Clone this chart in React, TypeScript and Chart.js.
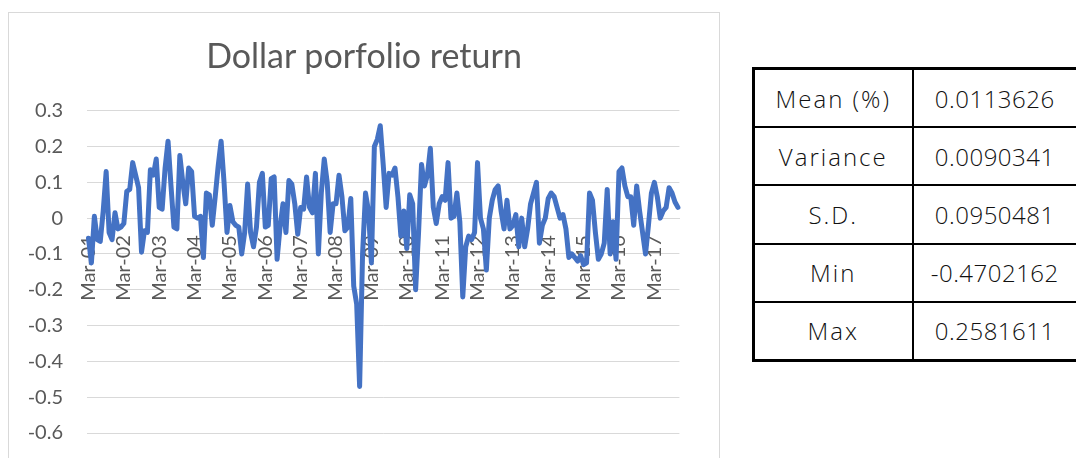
import React, { useEffect, useRef } from "react";
import { Chart, registerables } from "chart.js";

Chart.register(...registerables);

const TITLE = "Dollar porfolio return";
const MONTHS = ["Jan", "Feb", "Mar", "Apr", "May", "Jun", "Jul", "Aug", "Sep", "Oct", "Nov", "Dec"];
const FIRST_MONTH_INDEX = 2; // Mar-01

const RET_2001 = [-0.056, -0.125, 0.005, -0.06, -0.065, 0.02, 0.13, -0.04, -0.06, 0.015];
const RET_2002 = [-0.03, -0.025, -0.015, 0.075, 0.08, 0.155, 0.12, 0.085, -0.095, -0.035, -0.04, 0.135];
const RET_2003 = [0.12, 0.165, 0.03, 0.025, 0.14, 0.215, 0.09, -0.025, -0.03, 0.175, 0.1, 0.04];
const RET_2004 = [0.14, 0.13, 0.005, 0.0, 0.005, -0.11, 0.07, 0.065, -0.02, 0.06, 0.145, 0.215];
const RET_2005 = [0.1, -0.04, 0.035, -0.01, -0.02, -0.025, -0.1, -0.04, 0.095, -0.04, -0.08, -0.025];
const RET_2006 = [0.1, 0.125, -0.025, -0.02, 0.11, 0.115, -0.115, -0.025, 0.04, -0.04, 0.105, 0.095];
const RET_2007 = [0.04, -0.045, 0.03, 0.025, 0.115, 0.03, 0.015, 0.125, -0.1, 0.07, 0.165, 0.1];
const RET_2008 = [-0.04, 0.04, 0.04, 0.12, 0.06, -0.035, -0.025, 0.055, -0.19, -0.24, -0.4702162, -0.1];
const RET_2009 = [0.07, 0.02, -0.125, 0.2, 0.22, 0.2581611, 0.15, 0.03, 0.125, 0.12, 0.14, 0.06];
const RET_2010 = [-0.05, 0.02, -0.085, 0.065, 0.04, -0.2, -0.04, 0.15, 0.09, 0.12, 0.195, 0.03];
const RET_2011 = [-0.015, 0.04, 0.06, 0.05, 0.155, 0.0, 0.005, 0.07, -0.01, -0.22, -0.08, -0.05];
const RET_2012 = [-0.06, -0.04, 0.155, 0.0, -0.03, -0.145, 0.0, 0.05, 0.08, 0.09, 0.02, -0.03];
const RET_2013 = [0.05, -0.03, -0.02, 0.01, -0.08, 0.0, -0.08, -0.03, 0.04, 0.07, 0.1, -0.07];
const RET_2014 = [-0.02, 0.0, 0.055, 0.07, 0.06, 0.03, 0.0, 0.01, -0.03, -0.11, -0.1, -0.11];
const RET_2015 = [-0.12, -0.105, -0.13, -0.125, 0.07, 0.05, -0.04, -0.115, -0.1, -0.07, 0.08, -0.1];
const RET_2016 = [-0.01, -0.115, 0.13, 0.14, 0.09, 0.06, 0.06, -0.02, 0.09, 0.02, -0.04, -0.1];
const RET_2017 = [-0.02, 0.07, 0.1, 0.06, 0.0, 0.02, 0.03, 0.085, 0.07, 0.045, 0.03];

const RETURNS = [
  ...RET_2001, ...RET_2002, ...RET_2003, ...RET_2004, ...RET_2005, ...RET_2006,
  ...RET_2007, ...RET_2008, ...RET_2009, ...RET_2010, ...RET_2011, ...RET_2012,
  ...RET_2013, ...RET_2014, ...RET_2015, ...RET_2016, ...RET_2017,
];

const CATEGORIES = RETURNS.map((_, i) => {
  const k = FIRST_MONTH_INDEX + i;
  const yy = 1 + Math.floor(k / 12);
  return `${MONTHS[k % 12]}-${String(yy).padStart(2, "0")}`;
});

const LABEL_EVERY = 12;
const Y_MIN = -0.6;
const Y_MAX = 0.3;
const Y_STEP = 0.1;

const STAT_LABELS = ["Mean (%)", "Variance", "S.D.", "Min", "Max"];
const STAT_VALUES = ["0.0113626", "0.0090341", "0.0950481", "-0.4702162", "0.2581611"];

function ReturnChart() {
  const ref = useRef<HTMLCanvasElement | null>(null);
  useEffect(() => {
    if (!ref.current) return;
    const chart = new Chart(ref.current, {
      type: "line",
      data: {
        labels: CATEGORIES,
        datasets: [
          {
            data: RETURNS,
            borderColor: "#4472C4",
            backgroundColor: "#4472C4",
            borderWidth: 5,
            pointRadius: 0,
            pointHoverRadius: 0,
            tension: 0,
            fill: false,
            borderJoinStyle: "round",
            borderCapStyle: "round",
          },
        ],
      },
      options: {
        responsive: false,
        maintainAspectRatio: false,
        animation: false,
        layout: { padding: { left: 8, right: 29, top: 97.7, bottom: 34.3 } },
        plugins: {
          legend: { display: false },
          tooltip: { enabled: false },
          title: { display: false },
        },
        scales: {
          x: {
            type: "category",
            position: { y: 0 },
            offset: true,
            grid: { display: false, drawTicks: false },
            border: { display: true, color: "#d9d9d9", width: 1 },
            ticks: {
              autoSkip: false,
              minRotation: 90,
              maxRotation: 90,
              padding: 17,
              color: "#595959",
              font: { family: "Lato", size: 20 },
              callback: (_v: any, i: number) => (i % LABEL_EVERY === 0 ? CATEGORIES[i] : ""),
            },
          },
          y: {
            min: Y_MIN,
            max: Y_MAX,
            afterFit: (s: any) => {
              s.width = 70;
            },
            grid: { color: "#d9d9d9", lineWidth: 1, drawTicks: false },
            border: { display: false },
            ticks: {
              stepSize: Y_STEP,
              padding: 24,
              color: "#595959",
              font: { family: "Lato", size: 20 },
              callback: (v: any) => String(Number(Number(v).toFixed(1))),
            },
          },
        },
      },
    });
    return () => chart.destroy();
  }, []);
  return <canvas ref={ref} width={710} height={456} style={{ display: "block", width: 710, height: 456 }} />;
}

function StatsTable() {
  const cell: React.CSSProperties = {
    border: "2px solid #000",
    textAlign: "center",
    verticalAlign: "middle",
    padding: 0,
    fontFamily: "'Open Sans', sans-serif",
    fontWeight: 300,
    fontSize: 24,
    color: "#111",
    whiteSpace: "nowrap",
  };
  return (
    <table
      style={{
        position: "absolute",
        left: 752,
        top: 67,
        width: 324,
        height: 295,
        borderCollapse: "collapse",
        border: "3px solid #000",
        tableLayout: "fixed",
        boxSizing: "border-box",
      }}
    >
      <colgroup>
        <col style={{ width: 159 }} />
        <col style={{ width: 165 }} />
      </colgroup>
      <tbody>
        {STAT_LABELS.map((lab, i) => (
          <tr key={lab}>
            <td style={{ ...cell, letterSpacing: 2 }}>{lab}</td>
            <td style={{ ...cell, letterSpacing: 0.5 }}>{STAT_VALUES[i]}</td>
          </tr>
        ))}
      </tbody>
    </table>
  );
}

export default function App() {
  return (
    <div
      style={{
        position: "fixed",
        left: 0,
        top: 0,
        width: 1076,
        height: 458,
        overflow: "hidden",
        background: "#fff",
      }}
    >
      <div
        style={{
          position: "absolute",
          left: 8,
          top: 12,
          width: 712,
          height: 470,
          border: "1px solid #d9d9d9",
          boxSizing: "border-box",
          background: "#fff",
        }}
      >
        <div
          style={{
            position: "absolute",
            left: 0,
            top: 22,
            width: 710,
            textAlign: "center",
            fontFamily: "Lato, sans-serif",
            fontSize: 34,
            lineHeight: "40px",
            color: "#595959",
            zIndex: 2,
          }}
        >
          {TITLE}
        </div>
        <ReturnChart />
      </div>
      <StatsTable />
    </div>
  );
}
